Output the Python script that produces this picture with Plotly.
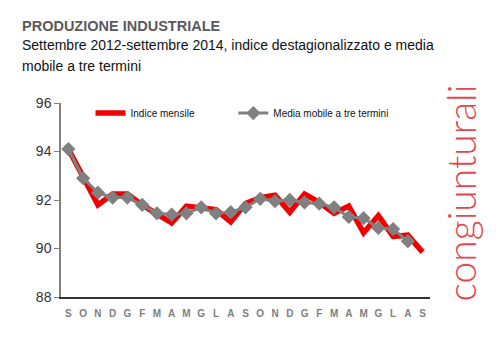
import plotly.graph_objects as go

months = ["S", "O", "N", "D", "G", "F", "M", "A", "M", "G", "L", "A",
          "S", "O", "N", "D", "G", "F", "M", "A", "M", "G", "L", "A", "S"]
indice_mensile = [94.1, 92.9, 91.8, 92.25, 92.25, 91.8, 91.45, 91.05, 91.75, 91.7,
                  91.6, 91.1, 91.85, 92.1, 92.2, 91.5, 92.25, 91.9, 91.45, 91.75,
                  90.65, 91.35, 90.5, 90.55, 89.85]
media_mobile = [94.1, 92.9, 92.3, 92.1, 92.1, 91.8, 91.45, 91.4, 91.45, 91.7,
                91.45, 91.5, 91.7, 92.05, 91.95, 92.0, 91.9, 91.85, 91.7, 91.3,
                91.25, 90.85, 90.8, 90.3]
y_ticks = [88, 90, 92, 94, 96]

x_idx = list(range(len(months)))

fig = go.Figure()
fig.add_trace(go.Scatter(
    x=x_idx, y=indice_mensile, mode="lines", name="Indice mensile",
    line=dict(color="#f00000", width=5.5), legend="legend",
))
fig.add_trace(go.Scatter(
    x=x_idx[:len(media_mobile)], y=media_mobile, mode="lines+markers",
    name="Media mobile a tre termini",
    line=dict(color="#808080", width=3),
    marker=dict(symbol="diamond", size=11, color="#808080"),
    legend="legend2",
))

legend_font = dict(family="Liberation Sans, Arial, sans-serif", size=10, color="#111")

fig.update_layout(
    width=500, height=355,
    paper_bgcolor="white", plot_bgcolor="white",
    margin=dict(l=53, r=78, t=95, b=66, autoexpand=False),
    font=dict(family="Liberation Sans, Arial, sans-serif"),
    showlegend=True,
    legend=dict(
        orientation="h", x=0.08, y=0.948, xanchor="left", yanchor="middle",
        font=legend_font, bgcolor="rgba(0,0,0,0)", itemwidth=30,
    ),
    legend2=dict(
        orientation="h", x=0.467, y=0.948, xanchor="left", yanchor="middle",
        font=legend_font, bgcolor="rgba(0,0,0,0)", itemwidth=30,
    ),
    xaxis=dict(
        tickmode="array", tickvals=x_idx, ticktext=months,
        range=[-0.5, len(months) - 0.5],
        showline=True, linecolor="#333", linewidth=1.5,
        ticks="", showgrid=False, zeroline=False, automargin=False,
        ticklabelstandoff=6,
        tickfont=dict(size=10, color="#808080", family="Liberation Sans, Arial, sans-serif", weight="bold"),
        fixedrange=True,
    ),
    yaxis=dict(
        range=[88, 96], tickvals=y_ticks,
        showline=True, linecolor="#808080", linewidth=1.5,
        ticks="outside", ticklen=5, tickcolor="#808080", automargin=False,
        showgrid=False, zeroline=False,
        tickfont=dict(size=14, color="#333", family="Liberation Sans, Arial, sans-serif"),
        fixedrange=True,
    ),
    annotations=[
        dict(text="<b>PRODUZIONE INDUSTRIALE</b>", xref="paper", yref="paper",
             x=-0.11, y=1.395, xanchor="left", yanchor="middle", showarrow=False,
             font=dict(size=14.5, color="#5a5a5a", family="Liberation Sans, Arial, sans-serif")),
        dict(text="Settembre 2012-settembre 2014, indice destagionalizzato e media",
             xref="paper", yref="paper", align="left",
             x=-0.11, y=1.30, xanchor="left", yanchor="middle", showarrow=False,
             font=dict(size=14, color="#111", family="Liberation Sans, Arial, sans-serif")),
        dict(text="mobile a tre termini",
             xref="paper", yref="paper", align="left",
             x=-0.11, y=1.19, xanchor="left", yanchor="middle", showarrow=False,
             font=dict(size=14, color="#111", family="Liberation Sans, Arial, sans-serif")),
        dict(text="congiunturali", xref="paper", yref="paper", textangle=-90,
             x=1.083, y=0.537, xanchor="center", yanchor="middle", showarrow=False,
             font=dict(size=39, color="#e4474c", family="Lato, sans-serif", weight=300)),
    ],
)

fig.write_html("out.html")
